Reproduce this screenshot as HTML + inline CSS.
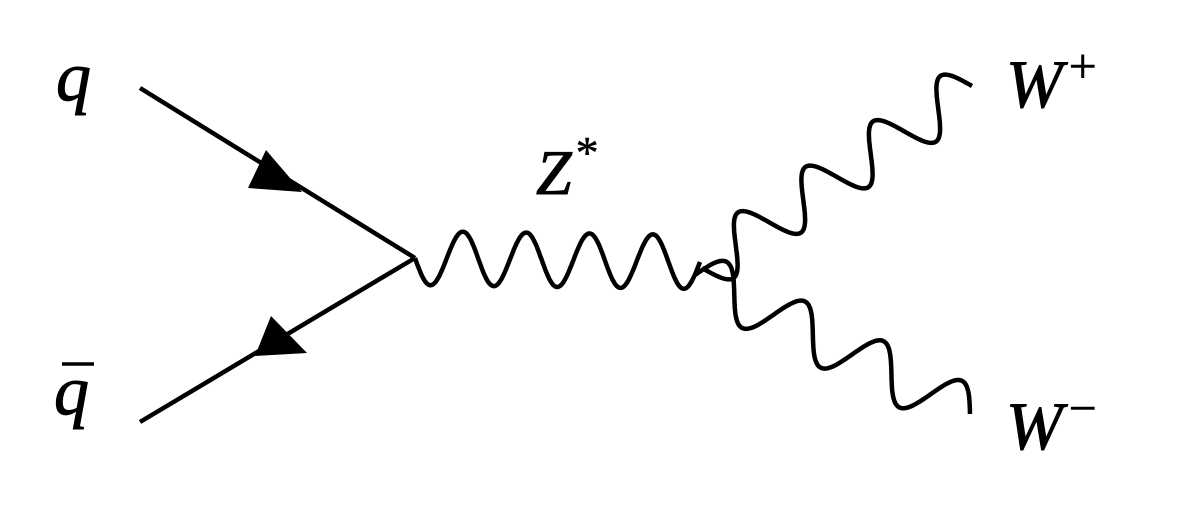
<!DOCTYPE html>
<html><head><meta charset="utf-8"><style>
html,body{margin:0;padding:0;background:#fff;width:1177px;height:513px;overflow:hidden}
svg text{font-family:"Liberation Serif",serif;font-style:italic;fill:#000}
</style></head><body>
<svg id="d" width="1177" height="513" viewBox="0 0 1177 513" xmlns="http://www.w3.org/2000/svg">
<line x1="140" y1="88" x2="415" y2="258" stroke="#000" stroke-width="4.5"/>
<line x1="140" y1="422" x2="415" y2="258" stroke="#000" stroke-width="4.5"/>
<polygon points="266,150 248,188 302,192" fill="#000"/>
<polygon points="271,316 255,356 307,353" fill="#000"/>
<path id="z" fill="none" stroke="#000" stroke-width="4.5"/>
<path id="wp" fill="none" stroke="#000" stroke-width="4.5"/>
<path id="wm" fill="none" stroke="#000" stroke-width="4.5"/>
<text x="56" y="100" font-size="70" stroke="#000" stroke-width="1">q</text>
<text x="54" y="414" font-size="70" stroke="#000" stroke-width="1">q</text>
<line x1="62" y1="364" x2="94" y2="364" stroke="#000" stroke-width="3.5"/>
<text x="536" y="194" font-size="64" stroke="#000" stroke-width="1">Z<tspan font-style="normal" font-size="46" dx="4" dy="-26" stroke-width="0.5">*</tspan></text>
<text x="1006" y="107" font-size="68" stroke="#000" stroke-width="1">W<tspan font-style="normal" font-size="50" dx="6" dy="-24" stroke-width="0.5">+</tspan></text>
<text x="1006" y="449" font-size="68" stroke="#000" stroke-width="1">W<tspan font-style="normal" font-size="50" dx="6" dy="-24" stroke-width="0.5">−</tspan></text>
</svg>
<script>
function wave(x1,y1,x2,y2,cycles,amp,sign){
  var dx=x2-x1,dy=y2-y1,L=Math.hypot(dx,dy),nx=-dy/L*sign,ny=dx/L*sign,d='';
  for(var i=0;i<=300;i++){var t=i/300,s=amp*Math.sin(2*Math.PI*cycles*t);
    d+=(i?'L':'M')+(x1+dx*t+nx*s).toFixed(1)+' '+(y1+dy*t+ny*s).toFixed(1);}
  return d;
}
document.getElementById('z').setAttribute('d',wave(415,258,700,262,4.5,27,1));
document.getElementById('wp').setAttribute('d',wave(702,268,972,86,4,26,1));
document.getElementById('wm').setAttribute('d',wave(695,275,970,414,3.5,26,-1));
</script>
</body></html>
